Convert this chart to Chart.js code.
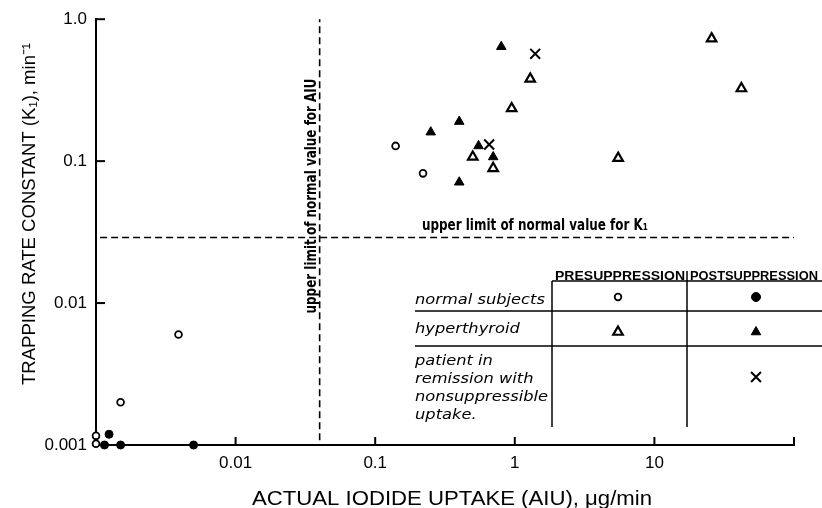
<!DOCTYPE html>
<html><head><meta charset="utf-8">
<script src="https://cdn.jsdelivr.net/npm/chart.js@4/dist/chart.umd.min.js"></script>
<style>html,body{margin:0;padding:0;background:#fff}#wrap{width:822px;height:508px;position:relative}</style>
</head><body><div id="wrap"><canvas id="c"></canvas></div>
<script>
// ---- axes ----
const xMin = 0.001, xMax = 100, yMin = 0.001, yMax = 1;
const xTickValues = [0.01, 0.1, 1, 10];
const xTickLabels = ['0.01', '0.1', '1', '10'];
const xTickMarks = [0.01, 0.1, 1, 10, 100];
const yTickValues = [0.001, 0.01, 0.1, 1];
const yTickLabels = ['0.001', '0.01', '0.1', '1.0'];
const yTickMarks = [0.01, 0.1, 1];

// ---- reference limits ----
const aiuUpperLimit = 0.04;
const aiuLineYRange = [0.00108, 1.0];
const k1UpperLimit = 0.029;
const k1LineXRange = [0.00107, 100];

// ---- series ----
const normalPreX = [0.14, 0.22, 0.0039, 0.0015, 0.001, 0.001];
const normalPreY = [0.128, 0.082, 0.006, 0.0020, 0.00116, 0.00102];
const normalPostX = [0.00124, 0.00115, 0.0015, 0.005];
const normalPostY = [0.00119, 0.001, 0.001, 0.001];
const hyperPreX = [1.29, 0.95, 0.50, 0.70, 25.7, 42, 5.5];
const hyperPreY = [0.38, 0.235, 0.107, 0.089, 0.73, 0.325, 0.105];
const hyperPostX = [0.80, 0.40, 0.25, 0.55, 0.70, 0.40];
const hyperPostY = [0.64, 0.19, 0.16, 0.128, 0.107, 0.071];
const remissionX = [1.4, 0.655];
const remissionY = [0.57, 0.131];

// ---- texts ----
const xTitle = 'ACTUAL IODIDE UPTAKE (AIU), \u03bcg/min';
const yTitle = 'TRAPPING RATE CONSTANT (K\u2081), min\u207b\u00b9';
const aiuLabel = 'upper limit of normal value for AIU';
const k1Label = 'upper limit of normal value for K\u2081';
const headerPre = 'PRESUPPRESSION';
const headerPost = 'POSTSUPPRESSION';
const rowLabels = [['normal subjects'], ['hyperthyroid'], ['patient in', 'remission with', 'nonsuppressible', 'uptake.']];

const pts = (xs, ys) => xs.map((x, i) => ({x, y: ys[i]}));
const BLACK = '#000';

function fitText(ctx, text, x, y, font, width, align, rot) {
  ctx.save();
  ctx.font = font;
  ctx.fillStyle = BLACK;
  ctx.textBaseline = 'alphabetic';
  const w = ctx.measureText(text).width;
  const s = width ? width / w : 1;
  ctx.translate(x, y);
  if (rot) ctx.rotate(rot);
  ctx.scale(s, 1);
  ctx.textAlign = align || 'left';
  ctx.fillText(text, 0, 0);
  ctx.restore();
}

function marker(ctx, style, x, y, r, filled, bw) {
  ctx.save();
  ctx.lineWidth = bw; ctx.strokeStyle = BLACK; ctx.fillStyle = filled ? BLACK : '#fff';
  ctx.beginPath();
  if (style === 'circle') {
    ctx.arc(x, y, r, 0, Math.PI * 2);
    ctx.fill(); ctx.stroke();
  } else if (style === 'triangle') {
    const h = r * Math.sin(Math.PI * 2 / 3);
    ctx.moveTo(x, y - r); ctx.lineTo(x + h, y + r / 2); ctx.lineTo(x - h, y + r / 2); ctx.closePath();
    ctx.fill(); ctx.stroke();
  } else {
    const o = r * Math.SQRT1_2;
    ctx.moveTo(x - o, y - o); ctx.lineTo(x + o, y + o);
    ctx.moveTo(x + o, y - o); ctx.lineTo(x - o, y + o);
    ctx.stroke();
  }
  ctx.restore();
}

const NARROW_BOLD = "bold 15px 'Liberation Sans Narrow', 'DejaVu Sans Condensed', 'Liberation Sans', sans-serif";

const decor = {
  id: 'decor',
  afterDraw(chart) {
    const {ctx, chartArea: ca, scales: {x, y}} = chart;
    ctx.save();
    ctx.strokeStyle = BLACK; ctx.lineWidth = 2;
    xTickMarks.forEach(v => { const px = x.getPixelForValue(v); ctx.beginPath(); ctx.moveTo(px, ca.bottom); ctx.lineTo(px, ca.bottom - 8); ctx.stroke(); });
    yTickMarks.forEach(v => { const py = y.getPixelForValue(v); ctx.beginPath(); ctx.moveTo(ca.left, py); ctx.lineTo(ca.left + 9, py); ctx.stroke(); });
    ctx.restore();

    // axis titles
    fitText(ctx, xTitle, 452, 505, "20px 'Liberation Sans', sans-serif", 400, 'center');
    fitText(ctx, yTitle, 35, 214, "19px 'Liberation Sans', sans-serif", 342, 'center', -Math.PI / 2);

    // reference line labels
    fitText(ctx, k1Label, 422, 230, NARROW_BOLD, 226, 'left');
    fitText(ctx, aiuLabel, 316, 196, NARROW_BOLD, 235, 'center', -Math.PI / 2);

    // legend table
    ctx.save();
    ctx.strokeStyle = BLACK; ctx.lineWidth = 1.5;
    const seg = (a, b, c, d) => { ctx.beginPath(); ctx.moveTo(a, b); ctx.lineTo(c, d); ctx.stroke(); };
    seg(552, 281, 822, 281);
    seg(415, 311, 822, 311);
    seg(415, 346, 822, 346);
    seg(552, 281, 552, 427);
    seg(687, 271, 687, 427);
    ctx.restore();
    const HB = "bold 12px 'Liberation Sans', sans-serif";
    fitText(ctx, headerPre, 620, 280, HB, 130, 'center');
    fitText(ctx, headerPost, 754, 280, HB, 128, 'center');

    const IT = "oblique 14px 'DejaVu Sans', sans-serif";
    ctx.save(); ctx.font = IT; const sRef = 133 / ctx.measureText('nonsuppressible').width; ctx.restore();
    const itDraw = (t, yy) => { ctx.save(); ctx.font = IT; const w = ctx.measureText(t).width * sRef; ctx.restore(); fitText(ctx, t, 415, yy, IT, w, 'left'); };
    itDraw(rowLabels[0][0], 304);
    itDraw(rowLabels[1][0], 333);
    const multi = [365, 383, 401, 419];
    rowLabels[2].forEach((t, i) => itDraw(t, multi[i]));

    marker(ctx, 'circle', 618, 297, 3.3, false, 1.8);
    marker(ctx, 'circle', 756, 297, 4.5, true, 1);
    marker(ctx, 'triangle', 618, 332, 5.5, false, 2.2);
    marker(ctx, 'triangle', 756, 332, 5.5, true, 1);
    marker(ctx, 'cross', 756, 377, 7, false, 2);
  }
};

const tickFont = {family: "'Liberation Sans', sans-serif", size: 17};

new Chart(document.getElementById('c'), {
  type: 'scatter',
  data: {
    datasets: [
      {label: 'K1 limit', data: [{x: k1LineXRange[0], y: k1UpperLimit}, {x: k1LineXRange[1], y: k1UpperLimit}],
       showLine: true, borderDash: [7, 4], borderWidth: 1.6, borderColor: BLACK, pointRadius: 0, clip: false},
      {label: 'AIU limit', data: [{x: aiuUpperLimit, y: aiuLineYRange[0]}, {x: aiuUpperLimit, y: aiuLineYRange[1]}],
       showLine: true, borderDash: [7, 4], borderWidth: 1.6, borderColor: BLACK, pointRadius: 0, clip: false},
      {label: 'normal subjects, presuppression', data: pts(normalPreX, normalPreY), pointStyle: 'circle',
       pointRadius: 3.4, pointBorderWidth: 1.8, pointBackgroundColor: '#fff', pointBorderColor: BLACK, clip: false},
      {label: 'normal subjects, postsuppression', data: pts(normalPostX, normalPostY), pointStyle: 'circle',
       pointRadius: 4, pointBorderWidth: 1, pointBackgroundColor: BLACK, pointBorderColor: BLACK, clip: false},
      {label: 'hyperthyroid, presuppression', data: pts(hyperPreX, hyperPreY), pointStyle: 'triangle',
       pointRadius: 5.5, pointBorderWidth: 2.2, pointBackgroundColor: '#fff', pointBorderColor: BLACK, clip: false},
      {label: 'hyperthyroid, postsuppression', data: pts(hyperPostX, hyperPostY), pointStyle: 'triangle',
       pointRadius: 5.5, pointBorderWidth: 1, pointBackgroundColor: BLACK, pointBorderColor: BLACK, clip: false},
      {label: 'remission, nonsuppressible uptake', data: pts(remissionX, remissionY), pointStyle: 'crossRot',
       pointRadius: 7, pointBorderWidth: 2, pointBackgroundColor: BLACK, pointBorderColor: BLACK, clip: false}
    ]
  },
  options: {
    responsive: true, maintainAspectRatio: false, animation: false,
    layout: {padding: {top: 19, right: 28, left: 0, bottom: 0}},
    plugins: {legend: {display: false}, tooltip: {enabled: false}},
    scales: {
      x: {
        type: 'logarithmic', min: xMin, max: xMax,
        grid: {display: false, drawTicks: false, lineWidth: 2},
        border: {display: true, color: BLACK, width: 2},
        ticks: {autoSkip: false, maxRotation: 0, padding: 8, color: BLACK, font: tickFont,
                callback: (v, i) => xTickLabels[i]},
        afterBuildTicks: s => { s.ticks = xTickValues.map(v => ({value: v})); },
        afterFit: s => { s.height = 63; }
      },
      y: {
        type: 'logarithmic', min: yMin, max: yMax,
        grid: {display: false, drawTicks: false, lineWidth: 2},
        border: {display: true, color: BLACK, width: 2},
        ticks: {autoSkip: false, padding: 9, color: BLACK, font: tickFont,
                callback: (v, i) => yTickLabels[i]},
        afterBuildTicks: s => { s.ticks = yTickValues.map(v => ({value: v})); },
        afterFit: s => { s.width = 96; }
      }
    }
  },
  plugins: [decor]
});
</script>
</body></html>
